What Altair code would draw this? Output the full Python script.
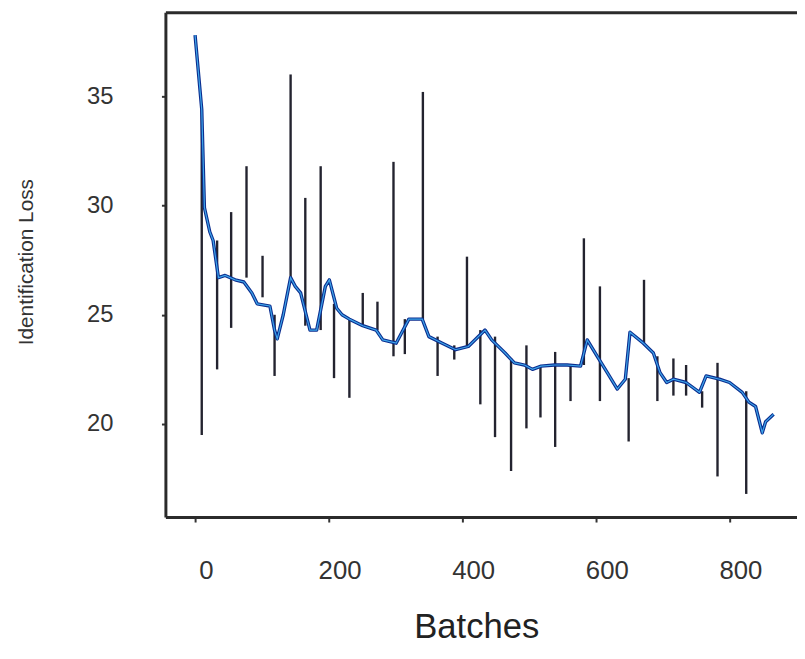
import altair as alt
import pandas as pd

# Smoothed loss curve (batches, loss)
base_x = [0, 10, 14, 22, 27, 35, 45, 60, 73, 85, 93, 112, 119, 123, 132, 143, 150, 158, 172, 182,
          195, 201, 212, 220, 231, 251, 271, 281, 301, 320, 340, 350, 370, 390, 409, 434, 444, 464,
          478, 493, 505, 518, 538, 557, 577, 587, 602, 617, 632, 644, 651, 671, 686, 696, 706, 716,
          735, 755, 765, 785, 800, 819, 829, 839, 849, 854, 866]
base_y = [37.8, 34.4, 29.9, 28.8, 28.4, 26.7, 26.8, 26.6, 26.5, 26.0, 25.5, 25.4, 24.3, 23.9, 25.0,
          26.7, 26.3, 26.0, 24.3, 24.3, 26.3, 26.6, 25.3, 25.0, 24.8, 24.5, 24.3, 23.85, 23.7, 24.8,
          24.8, 24.0, 23.7, 23.4, 23.55, 24.3, 23.85, 23.25, 22.8, 22.7, 22.5, 22.65, 22.7, 22.7,
          22.65, 23.85, 23.1, 22.35, 21.6, 22.05, 24.2, 23.7, 23.25, 22.35, 21.9, 22.05, 21.9, 21.45,
          22.2, 22.05, 21.9, 21.45, 21.0, 20.8, 19.6, 20.1, 20.45]

# Spikes (batch, low, high)
spike_x = [10, 33, 54, 77, 101, 119, 143, 165, 188, 208, 231, 251, 273, 297, 314, 341, 363, 388,
           407, 427, 449, 473, 496, 517, 539, 562, 582, 606, 649, 672, 692, 716, 735, 759, 782, 825]
spike_lo = [19.5, 22.5, 24.4, 26.7, 25.8, 22.2, 26.7, 24.5, 24.3, 22.1, 21.2, 24.5, 24.3, 23.1,
            23.2, 24.8, 22.2, 22.95, 23.5, 20.9, 19.4, 17.85, 19.8, 20.3, 18.95, 21.05, 22.7, 21.05,
            19.2, 23.7, 21.05, 21.3, 21.3, 20.75, 17.6, 16.8]
spike_hi = [34.4, 28.4, 29.7, 31.8, 27.7, 25.0, 36.0, 30.35, 31.8, 25.5, 24.8, 26.0, 25.6, 32.0,
            24.8, 35.2, 24.0, 23.6, 27.66, 24.3, 24.0, 23.0, 23.6, 22.6, 23.3, 22.7, 28.5, 26.3,
            22.1, 26.6, 23.1, 23.0, 22.7, 21.5, 22.8, 21.5]

x_ticks = [0, 200, 400, 600, 800]
y_ticks = [20, 25, 30, 35]

base = pd.DataFrame({"batch": base_x, "loss": base_y, "i": list(range(len(base_x)))})
spikes = pd.DataFrame({"batch": spike_x, "lo": spike_lo, "hi": spike_hi})

font = "Liberation Sans, Arial, sans-serif"

xscale = alt.Scale(domain=[-44.4, 901], nice=False, zero=False)
yscale = alt.Scale(domain=[15.74, 38.85], nice=False, zero=False)

xaxis = alt.Axis(values=x_ticks, title="Batches", grid=False,
                 domain=True, domainColor="#2b2b2b", domainWidth=3,
                 tickSize=5, tickWidth=2, tickColor="#333",
                 labelFont=font, labelFontSize=26, labelColor="#333",
                 labelPadding=36, labelOffset=11,
                 titleFont=font, titleFontSize=35, titleFontWeight="normal",
                 titleColor="#222", titlePadding=27, titleX=314)
yaxis = alt.Axis(values=y_ticks, title="Identification Loss", grid=False,
                 domain=True, domainColor="#2b2b2b", domainWidth=3,
                 tickSize=4, tickWidth=2, tickColor="#333",
                 labelFont=font, labelFontSize=24, labelColor="#333", labelPadding=49,
                 titleFont=font, titleFontSize=21, titleFontWeight="normal",
                 titleColor="#333", titleAngle=270, titleX=-140, titleY=252,
                 titleBaseline="middle", titleAlign="center")
top_axis = alt.Axis(orient="top", labels=False, ticks=False, grid=False, title=None,
                    domain=True, domainColor="#2b2b2b", domainWidth=3)

rules = alt.Chart(spikes).mark_rule(color="#23232f", strokeWidth=2.4).encode(
    x=alt.X("batch:Q", scale=xscale, axis=xaxis),
    y=alt.Y("lo:Q", scale=yscale, axis=yaxis),
    y2="hi:Q",
)

dark = alt.Chart(base).mark_line(color="#0b2d8f", strokeWidth=3.4, strokeJoin="round").encode(
    x=alt.X("batch:Q", scale=xscale, axis=top_axis),
    y=alt.Y("loss:Q", scale=yscale),
    order="i:Q",
)

light = alt.Chart(base).mark_line(color="#3ea6ea", strokeWidth=1.2).encode(
    x=alt.X("batch:Q", scale=xscale, axis=None),
    y=alt.Y("loss:Q", scale=yscale),
    order="i:Q",
)

chart = alt.layer(rules, dark, light).resolve_axis(x="independent").properties(
    width=638, height=510,
    autosize=alt.AutoSizeParams(type="none"),
    padding={"left": 159, "top": 1, "right": 0, "bottom": 128},
).configure_view(stroke=None)

chart.save("out.html", embed_options={"renderer": "svg", "actions": False})
